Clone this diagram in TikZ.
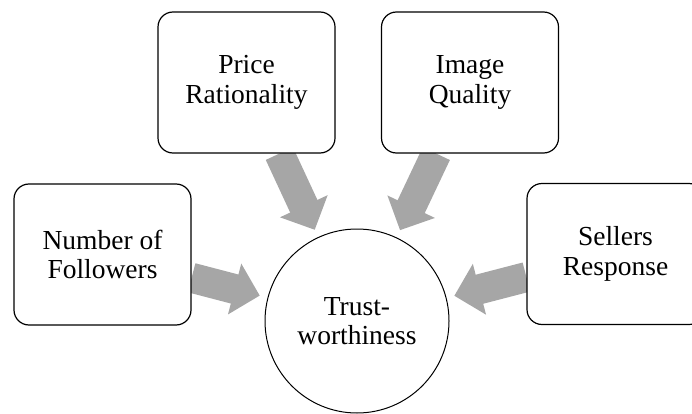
\documentclass[tikz,border=0pt]{standalone}
\usepackage{fontspec}
\setmainfont{Liberation Serif}
\usetikzlibrary{arrows.meta,backgrounds}
\definecolor{arrowgray}{HTML}{A6A6A6}
\begin{document}
\begin{tikzpicture}[x=1pt,y=-1pt,
  label text/.style={font=\fontsize{27.5}{29.5}\selectfont, align=center},
  factor/.style={label text, draw=black, line width=1.2pt, rounded corners=15pt,
    fill=white, minimum width=177pt, minimum height=141pt, inner sep=0pt},
  hub/.style={label text, draw=black, line width=1pt, circle, fill=white,
    minimum size=184pt, inner sep=0pt},
  influence/.style={draw=arrowgray, line width=30pt,
    -{Triangle[length=26pt, width=51pt]}, shorten >=8pt}
]
\useasboundingbox (0,0) rectangle (692,414);
\clip (0,0) rectangle (692,414);

% central concept
\node[hub] (trust) at (357,321) {Trust-\\worthiness};

% contributing factors
\node[factor] (price)   at (246.5,82.5) {Price\\Rationality};
\node[factor] (image)   at (470,82.5)   {Image\\Quality};
\node[factor] (number)  at (102.5,254.5) {Number of\\Followers};
\node[factor] (sellers) at (615.5,254)  {Sellers\\Response};

% block arrows pointing at the centre
\begin{scope}[on background layer]
  \draw[influence] (price)   -- (trust);
  \draw[influence] (image)   -- (trust);
  \draw[influence] (number)  -- (trust);
  \draw[influence] (sellers) -- (trust);
\end{scope}
\end{tikzpicture}
\end{document}
